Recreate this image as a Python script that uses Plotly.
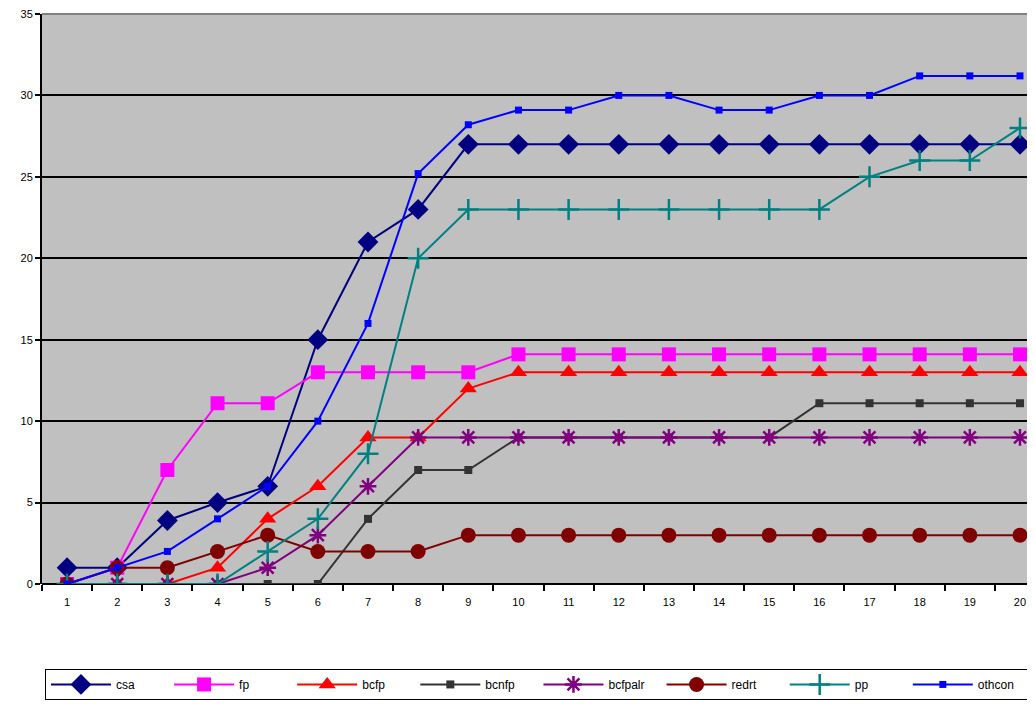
import plotly.graph_objects as go

x_vals = list(range(1, 21))

csa     = [1, 1, 3.9, 5, 6, 15, 21, 23, 27, 27, 27, 27, 27, 27, 27, 27, 27, 27, 27, 27]
fp      = [0, 1, 7, 11.1, 11.1, 13, 13, 13, 13, 14.1, 14.1, 14.1, 14.1, 14.1, 14.1, 14.1, 14.1, 14.1, 14.1, 14.1]
bcfp    = [0, 0, 0, 1, 4, 6, 9, 9, 12, 13, 13, 13, 13, 13, 13, 13, 13, 13, 13, 13]
bcnfp   = [0, 0, 0, 0, 0, 0, 4, 7, 7, 9, 9, 9, 9, 9, 9, 11.1, 11.1, 11.1, 11.1, 11.1]
bcfpalr = [0, 0, 0, 0, 1, 3, 6, 9, 9, 9, 9, 9, 9, 9, 9, 9, 9, 9, 9, 9]
redrt   = [0, 1, 1, 2, 3, 2, 2, 2, 3, 3, 3, 3, 3, 3, 3, 3, 3, 3, 3, 3]
pp      = [0, 0, 0, 0, 2, 4, 8, 20, 23, 23, 23, 23, 23, 23, 23, 23, 25, 26, 26, 28]
othcon  = [0, 1, 2, 4, 6, 10, 16, 25.2, 28.2, 29.1, 29.1, 30, 30, 29.1, 29.1, 30, 30, 31.2, 31.2, 31.2]

series = [
    ("csa", csa, "#000080", "diamond", 16),
    ("fp", fp, "#FF00FF", "square", 14),
    ("bcfp", bcfp, "#FF0000", "triangle-up", 15),
    ("bcnfp", bcnfp, "#333333", "square", 8),
    ("bcfpalr", bcfpalr, "#800080", "asterisk-open", 14),
    ("redrt", redrt, "#800000", "circle", 15),
    ("pp", pp, "#008080", "cross-thin-open", 15),
    ("othcon", othcon, "#0000FF", "square", 7),
]

fig = go.Figure()
for name, ys, color, sym, size in series:
    marker = dict(symbol=sym, size=size, color=color)
    if sym.endswith("open"):
        marker["line"] = dict(color=color, width=2.5)
    fig.add_trace(go.Scatter(
        x=x_vals, y=ys, name=name, mode="lines+markers",
        line=dict(color=color, width=2), marker=marker,
    ))

fig.update_layout(
    width=1019, height=692,
    margin=dict(l=34, r=0, t=6, b=116, autoexpand=False),
    paper_bgcolor="white",
    plot_bgcolor="#C0C0C0",
    font=dict(family="Liberation Sans, Arial, sans-serif", size=11, color="black"),
    showlegend=True,
    legend=dict(
        orientation="h", x=0.003, xanchor="left", y=-0.149, yanchor="top",
        bordercolor="black", borderwidth=1, bgcolor="white",
        font=dict(size=12), itemwidth=60,
        entrywidth=0.125, entrywidthmode="fraction",
    ),
    xaxis=dict(
        range=[0.5, 20.14], tickmode="array", tickvals=x_vals,
        ticktext=[str(v) for v in x_vals], ticks="", showgrid=False,
        showline=False, zeroline=False, automargin=False,
        ticklabeloverflow="allow", ticklabelstandoff=10,
        minor=dict(tickmode="array", tickvals=[v + 0.5 for v in range(0, 21)],
                   ticks="outside", ticklen=6, tickcolor="black", tickwidth=1.5,
                   showgrid=False),
    ),
    yaxis=dict(
        range=[0, 35], tickmode="array", tickvals=[0, 5, 10, 15, 20, 25, 30, 35],
        ticks="outside", ticklen=5, tickcolor="black", tickwidth=1.5,
        showgrid=True, gridcolor="black", gridwidth=1.5,
        showline=True, linecolor="black", linewidth=2, automargin=False,
        ticklabeloverflow="allow",
        zeroline=True, zerolinecolor="black", zerolinewidth=2,
    ),
    shapes=[dict(type="line", xref="paper", yref="paper", x0=0, x1=1, y0=1, y1=1,
                 line=dict(color="#808080", width=2))],
)

fig.write_html("out.html")
